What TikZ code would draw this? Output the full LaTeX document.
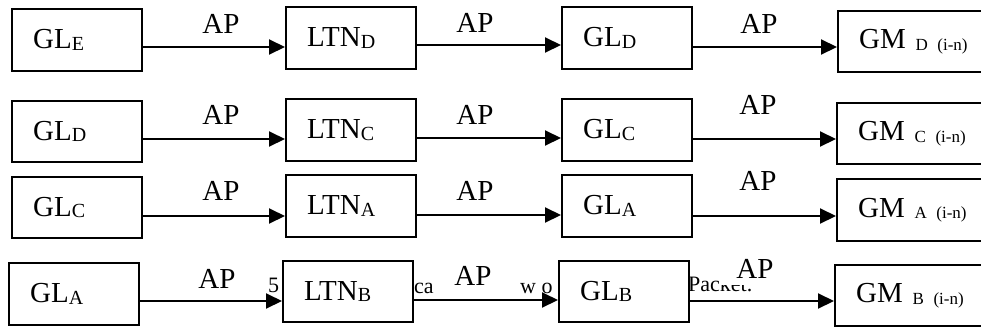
\documentclass[tikz,border=0pt]{standalone}
\usepackage{fontspec}
\setmainfont{Liberation Serif}
\usetikzlibrary{arrows.meta}
% lowered, smaller index letters inside the boxes
\newcommand\lsub[1]{\raisebox{-1.5pt}{\fontsize{20}{21}\selectfont #1}}
\newcommand\gsub[1]{\raisebox{-1.5pt}{\fontsize{17}{18}\selectfont #1}}
\begin{document}
\begin{tikzpicture}[x=1pt,y=-1pt,
  blk/.style={draw, line width=2.2pt, fill=white, inner xsep=21pt, inner ysep=0pt,
    anchor=west, align=left, font=\fontsize{29}{31}\selectfont},
  glbox/.style={blk, text width=88pt},
  gmbox/.style={blk, text width=140pt},
  aplab/.style={inner sep=0pt, anchor=base, font=\fontsize{29}{31}\selectfont},
  frag/.style={inner sep=0pt, anchor=base west, font=\fontsize{22}{24}\selectfont},
  arr/.style={line width=2pt, -{Triangle[length=16pt,width=15pt]}}]
\useasboundingbox (0,0) rectangle (981,327);
\clip (0,0) rectangle (981,327);

% pieces of the caption line that show between the last row of boxes
\node[frag] (f1) at (268,292) {5};
\node[frag] (f2) at (414,293) {ca};
\node[frag] (f3) at (520,293) {w o};
\node[frag] (f4) at (688,291) {Packet.};
\fill[white] (719,255) rectangle (800,285);

% row 1
\node[glbox, minimum height=62pt] (gle)  at (11,40)   {GL\lsub{E}};
\node[glbox, minimum height=62pt] (ltnd) at (285,38)  {LTN\lsub{D}};
\node[glbox, minimum height=62pt] (gld)  at (561,38)  {GL\lsub{D}};
\node[gmbox, minimum height=61pt] (gmd)  at (837,41.5) {GM \gsub{D (i-n)}};
% row 2
\node[glbox, minimum height=61pt] (gld2) at (11,131.5) {GL\lsub{D}};
\node[glbox, minimum height=62pt] (ltnc) at (285,130)  {LTN\lsub{C}};
\node[glbox, minimum height=62pt] (glc)  at (561,130)  {GL\lsub{C}};
\node[gmbox, minimum height=61pt] (gmc)  at (836,133.5) {GM \gsub{C (i-n)}};
% row 3
\node[glbox, minimum height=61pt] (glc2) at (11,207.5) {GL\lsub{C}};
\node[glbox, minimum height=62pt] (ltna) at (285,206)  {LTN\lsub{A}};
\node[glbox, minimum height=62pt] (gla)  at (561,206)  {GL\lsub{A}};
\node[gmbox, minimum height=62pt] (gma)  at (836,210)  {GM \gsub{A (i-n)}};
% row 4
\node[glbox, minimum height=62pt] (gla2) at (8,294)    {GL\lsub{A}};
\node[glbox, minimum height=61pt] (ltnb) at (282,291.5) {LTN\lsub{B}};
\node[glbox, minimum height=61pt] (glb)  at (558,291.5) {GL\lsub{B}};
\node[gmbox, minimum height=61pt] (gmb)  at (834,295.5) {GM \gsub{B (i-n)}};

% connectors, each a little below the centre of its source box
\foreach \a/\b/\d [count=\i] in {gle/ltnd/7, ltnd/gld/7, gld/gmd/9,
    gld2/ltnc/7.5, ltnc/glc/8, glc/gmc/9,
    glc2/ltna/8.5, ltna/gla/9, gla/gma/10,
    gla2/ltnb/7, ltnb/glb/8.5, glb/gmb/9.5} {
  \coordinate (s\i) at ([yshift=-\d pt]\a.east);
  \draw[arr] (s\i) -- (s\i -| \b.west);
}

% AP labels over the connectors
\node[aplab] (ap11) at (221,33)  {AP};
\node[aplab] (ap12) at (475,32)  {AP};
\node[aplab] (ap13) at (759,33)  {AP};
\node[aplab] (ap21) at (221,124) {AP};
\node[aplab] (ap22) at (475,124) {AP};
\node[aplab] (ap23) at (758,114) {AP};
\node[aplab] (ap31) at (221,200) {AP};
\node[aplab] (ap32) at (475,200) {AP};
\node[aplab] (ap33) at (758,190) {AP};
\node[aplab] (ap41) at (217,288) {AP};
\node[aplab] (ap42) at (473,285) {AP};
\node[aplab] (ap43) at (755,278) {AP};
\end{tikzpicture}
\end{document}
